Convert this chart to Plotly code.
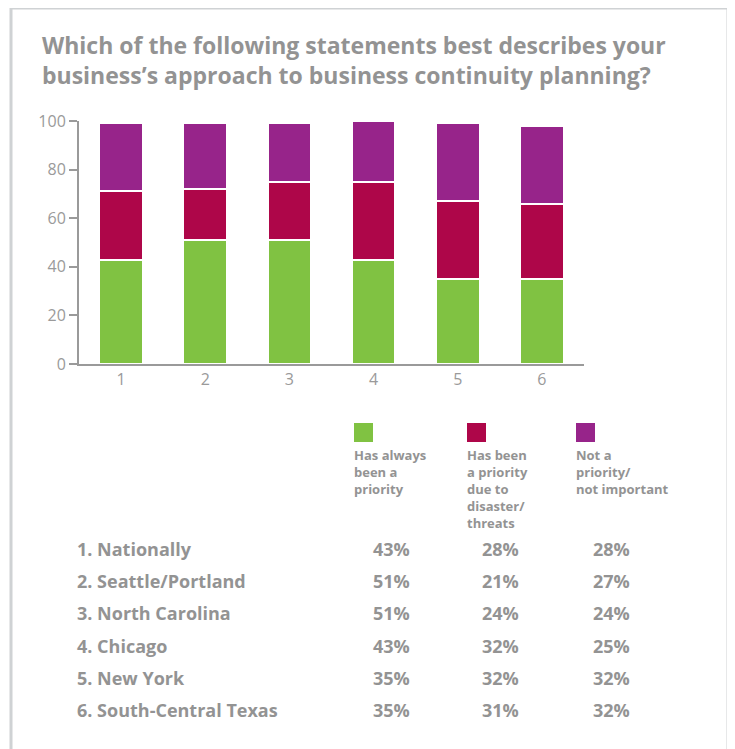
import plotly.graph_objects as go

# ---- data ----
positions = [1, 2, 3, 4, 5, 6]
regions = ["Nationally", "Seattle/Portland", "North Carolina", "Chicago",
           "New York", "South-Central Texas"]
always_priority = [43, 51, 51, 43, 35, 35]
due_to_disaster = [28, 21, 24, 32, 32, 31]
not_priority = [28, 27, 24, 25, 32, 32]
series_names = ["Has always|been a|priority",
                "Has been|a priority|due to|disaster/|threats",
                "Not a|priority/|not important"]
series_colors = ["#80c242", "#ae0649", "#97248a"]
y_ticks = [0, 20, 40, 60, 80, 100]
title_lines = ["Which of the following statements best describes your",
               "business’s approach to business continuity planning?"]

W, H = 735, 749
OFF = 8                 # page body margin
L, R = 79, 584          # plot area in screen px
T, B = 121, 364

def px(x):
    return (x - L) / (R - L)

def py(y):
    return (B - y) / (B - T)

GRAY = "#9a9a9a"
TXT = "#939393"
FONT = "Open Sans"

fig = go.Figure()
for vals, name, col in zip([always_priority, due_to_disaster, not_priority],
                           series_names, series_colors):
    fig.add_trace(go.Bar(x=positions, y=vals, name=name.replace("|", " "),
                         marker=dict(color=col, line=dict(color="white", width=2)),
                         width=0.52, showlegend=False))

fig.update_layout(
    width=W, height=H, barmode="stack",
    margin=dict(l=L - OFF, r=W - (R - OFF), t=T - OFF, b=H - (B - OFF), pad=0),
    paper_bgcolor="white", plot_bgcolor="white",
    font=dict(family=FONT, color=GRAY),
    xaxis=dict(range=[0.5, 6.5], tickvals=positions, ticktext=[str(p) for p in positions],
               showgrid=False, zeroline=False, showline=True, linecolor=GRAY, linewidth=2,
               ticks="", tickfont=dict(size=16, color=GRAY), layer="below traces",
               fixedrange=True),
    yaxis=dict(range=[0, 100], tickvals=y_ticks, showgrid=False, zeroline=False,
               showline=True, linecolor=GRAY, linewidth=2, ticks="outside", ticklen=8,
               tickwidth=2, tickcolor=GRAY, tickfont=dict(size=16, color=GRAY),
               layer="below traces", fixedrange=True),
    showlegend=False,
)

shapes = []
annotations = []

def text(x, y, s, size, anchor="left"):
    annotations.append(dict(xref="paper", yref="paper", x=px(x), y=py(y),
                            xanchor=anchor, yanchor="middle", showarrow=False,
                            align="left", text="<b>" + s + "</b>",
                            font=dict(family=FONT, size=size, color=TXT)))

# frame
shapes.append(dict(type="rect", xref="paper", yref="paper",
                   x0=px(11), x1=px(728), y0=py(8), y1=py(770),
                   line=dict(color="#cfd2d4", width=3), fillcolor="rgba(0,0,0,0)"))

# title
text(40, 60, "<br>".join(title_lines), 23)

# legend squares + labels
leg_x = [354, 467, 576]
leg_size = 13
for xx, name, col in zip(leg_x, series_names, series_colors):
    shapes.append(dict(type="rect", xref="paper", yref="paper",
                       x0=px(xx), x1=px(xx + 19), y0=py(423), y1=py(442),
                       line=dict(width=0), fillcolor=col))
    parts = name.split("|")
    yc = 455 + 1.3 * leg_size * (len(parts) - 1) / 2
    text(xx - 2, yc, "<br>".join(parts), leg_size)

# table
row_y0, row_dy = 549, 32.2
col_x = [391, 500, 611]
for i, (pos, reg) in enumerate(zip(positions, regions)):
    yy = row_y0 + i * row_dy
    text(75, yy, f"{pos}. {reg}", 18)
    for cx, vals in zip(col_x, [always_priority, due_to_disaster, not_priority]):
        text(cx, yy, f"{vals[i]}%", 18, anchor="center")

fig.update_layout(shapes=shapes, annotations=annotations)
fig.write_html("out.html", config={"displayModeBar": False})
